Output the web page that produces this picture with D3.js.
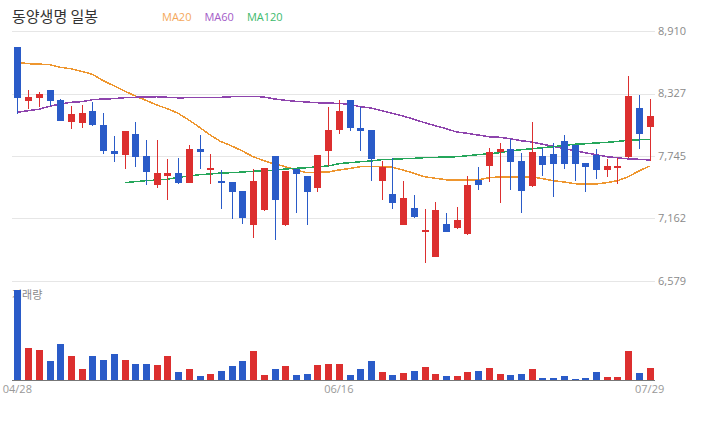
<!DOCTYPE html>
<html>
<head>
<meta charset="utf-8">
<script src="https://cdn.jsdelivr.net/npm/d3@7"></script>
<style>
	html, body { margin: 0; padding: 0; background: #fff; }
	svg { display: block; }
</style>
</head>
<body>
<div id="chart"></div>
<script>
(function () {
	'use strict';

	var title = "동양생명 일봉";

	// daily prices, 60 sessions
	var opens  = [8760, 8250, 8280, 8360, 8270, 8070, 8060, 8160, 8030, 7790, 7760, 7950, 7740, 7480, 7560, 7590, 7490, 7810, 7610, 7510,
		7500, 7420, 7100, 7240, 7740, 7100, 7620, 7560, 7440, 7790, 7980, 8270, 8010, 7990, 7510, 7390, 7100, 7260, 7040, 6800,
		7110, 7080, 7010, 7520, 7650, 7780, 7810, 7700, 7460, 7740, 7760, 7880, 7850, 7680, 7750, 7610, 7640, 7730, 8190, 8020];
	var highs  = [8760, 8360, 8340, 8360, 8280, 8210, 8220, 8250, 8150, 7930, 7980, 8060, 7890, 7890, 7720, 7730, 7850, 7940, 7760, 7610,
		7500, 7420, 7620, 7630, 7740, 7600, 7620, 7560, 7750, 8200, 8270, 8270, 8200, 7990, 7700, 7730, 7510, 7380, 7250, 7320,
		7210, 7270, 7560, 7640, 7820, 7870, 7900, 7770, 8060, 7820, 7870, 7940, 7850, 7680, 7810, 7720, 7730, 8490, 8310, 8280];
	var lows   = [8140, 8180, 8200, 8210, 8070, 8000, 8010, 8020, 7760, 7690, 7620, 7640, 7470, 7450, 7330, 7480, 7490, 7620, 7480, 7250,
		7160, 7110, 6980, 7230, 6960, 7090, 7210, 7100, 7410, 7650, 7950, 7980, 7790, 7510, 7330, 7250, 7100, 7170, 6750, 6800,
		7040, 7060, 7010, 7430, 7500, 7310, 7430, 7210, 7460, 7560, 7360, 7620, 7510, 7410, 7530, 7550, 7480, 7730, 7810, 7700];
	var closes = [8280, 8290, 8320, 8260, 8070, 8140, 8150, 8030, 7790, 7760, 7980, 7740, 7590, 7590, 7590, 7500, 7810, 7780, 7630, 7500,
		7410, 7170, 7510, 7630, 7330, 7600, 7570, 7410, 7750, 7990, 8160, 8010, 7980, 7720, 7640, 7310, 7350, 7180, 7050, 7240,
		7040, 7150, 7470, 7470, 7780, 7810, 7690, 7420, 7780, 7660, 7670, 7670, 7670, 7640, 7610, 7650, 7650, 8300, 7950, 8120];

	// volume, thousand shares
	var volumes = [450, 160, 150, 95, 180, 120, 55, 120, 100, 130, 100, 80, 80, 75, 120, 40, 55, 20, 30, 45,
		70, 95, 145, 25, 55, 70, 25, 30, 75, 80, 80, 25, 55, 95, 40, 25, 35, 45, 65, 30,
		20, 20, 40, 45, 60, 30, 25, 30, 55, 10, 10, 20, 5, 10, 40, 15, 15, 145, 35, 60];

	// moving averages
	var ma20 = [8618, 8605, 8602, 8596, 8572, 8558, 8534, 8506, 8447, 8400, 8351, 8304, 8264, 8220, 8186, 8143, 8080, 8012, 7940, 7878,
		7838, 7791, 7738, 7701, 7670, 7645, 7614, 7589, 7592, 7595, 7614, 7628, 7645, 7645, 7645, 7639, 7614, 7583, 7551, 7537,
		7523, 7521, 7521, 7523, 7542, 7549, 7549, 7549, 7549, 7533, 7514, 7502, 7486, 7483, 7483, 7496, 7514, 7551, 7605, 7651];
	var ma60 = [8152, 8167, 8180, 8208, 8229, 8245, 8251, 8269, 8276, 8279, 8288, 8292, 8295, 8297, 8292, 8287, 8288, 8288, 8288, 8292,
		8297, 8297, 8301, 8295, 8276, 8264, 8254, 8248, 8241, 8238, 8235, 8227, 8204, 8192, 8167, 8143, 8117, 8087, 8055, 8027,
		7999, 7968, 7956, 7940, 7924, 7919, 7906, 7887, 7875, 7854, 7835, 7813, 7794, 7775, 7757, 7738, 7729, 7717, 7714, 7707];
	var ma120 = [null, null, null, null, null, null, null, null, null, null,
		7496, 7505, 7514, 7521, 7527, 7546, 7558, 7570, 7577, 7586, 7589, 7595, 7602, 7605, 7611, 7623, 7630, 7635, 7645, 7651,
		7673, 7682, 7691, 7698, 7710, 7714, 7719, 7723, 7729, 7732, 7735, 7738, 7747, 7757, 7766, 7775, 7793, 7803, 7812, 7822,
		7831, 7844, 7854, 7859, 7866, 7871, 7881, 7890, 7896, 7900];

	var priceTicks = [8910, 8327, 7745, 7162, 6579];
	var dateTicks = [0, 30, 59];
	var dateLabels = ["04/28", "06/16", "07/29"];

	var maNames = ["MA20", "MA60", "MA120"];
	var maSeries = [ma20, ma60, ma120];
	var maColors = ["#ee962f", "#8e44ad", "#24a65a"];
	var maTextColors = ["#f4a85a", "#a35bc7", "#3dba6c"];

	var UP = "#dc2f2f", DOWN = "#2a5bc8";

	var width = 720, height = 440;
	var left = 12, right = 655;

	var svg = d3.select("#chart")
		.append("svg")
		.attr("width", width)
		.attr("height", height)
		.style("font-family", "'Open Sans', 'Noto Sans CJK KR', sans-serif");

	var x = d3.scalePoint()
		.domain(d3.range(closes.length))
		.range([left, right])
		.padding(0.5);

	var y = d3.scaleLinear()
		.domain([d3.min(priceTicks), d3.max(priceTicks)])
		.range([281, 31]);

	var yVol = d3.scaleLinear()
		.domain([0, d3.max(volumes)])
		.range([380, 290]);

	var bodyW = 7;
	function cx(i) { return Math.round(x(i)); }
	function color(i) { return closes[i] >= opens[i] ? UP : DOWN; }

	// grid lines + price labels
	svg.selectAll("line.grid")
		.data(priceTicks)
		.enter()
			.append("line")
			.attr("class", "grid")
			.attr("x1", left)
			.attr("x2", right)
			.attr("y1", function(d){ return Math.round(y(d)) + 0.5; })
			.attr("y2", function(d){ return Math.round(y(d)) + 0.5; })
			.attr("stroke", "#e6e6e6")
			.attr("stroke-width", 1);

	svg.selectAll("text.ptick")
		.data(priceTicks)
		.enter()
			.append("text")
			.attr("class", "ptick")
			.attr("x", 658)
			.attr("y", function(d){ return y(d); })
			.attr("dy", "0.35em")
			.attr("fill", "#8a8a8a")
			.style("font-size", "11px")
			.text(d3.format(","));

	// moving average lines
	maSeries.forEach(function(series, k) {
		var line = d3.line()
			.defined(function(d){ return d != null; })
			.x(function(d, i){ return x(i); })
			.y(function(d){ return y(d); });
		svg.append("path")
			.datum(series)
			.attr("fill", "none")
			.attr("stroke", maColors[k])
			.attr("stroke-width", 1.5)
			.attr("shape-rendering", "crispEdges")
			.attr("d", line);
	});

	// candles
	var idx = d3.range(closes.length);

	svg.selectAll("line.wick")
		.data(idx)
		.enter()
			.append("line")
			.attr("class", "wick")
			.attr("x1", function(i){ return cx(i) + 0.5; })
			.attr("x2", function(i){ return cx(i) + 0.5; })
			.attr("y1", function(i){ return Math.round(y(highs[i])); })
			.attr("y2", function(i){ return Math.round(y(lows[i])); })
			.attr("stroke", color)
			.attr("stroke-width", 1);

	svg.selectAll("rect.body")
		.data(idx)
		.enter()
			.append("rect")
			.attr("class", "body")
			.attr("x", function(i){ return cx(i) - 3; })
			.attr("width", bodyW)
			.attr("y", function(i){ return Math.round(y(Math.max(opens[i], closes[i]))); })
			.attr("height", function(i){
				return Math.max(2, Math.round(Math.abs(y(opens[i]) - y(closes[i]))));
			})
			.attr("fill", color);

	// volume panel
	svg.append("text")
		.attr("x", 12)
		.attr("y", 299)
		.attr("fill", "#8a8a8a")
		.style("font-family", "'Noto Sans CJK KR', sans-serif")
		.style("font-size", "11px")
		.text("거래량");

	svg.selectAll("rect.vol")
		.data(idx)
		.enter()
			.append("rect")
			.attr("class", "vol")
			.attr("x", function(i){ return cx(i) - 3; })
			.attr("width", bodyW)
			.attr("y", function(i){ return Math.round(yVol(volumes[i])); })
			.attr("height", function(i){ return 380 - Math.round(yVol(volumes[i])); })
			.attr("fill", color);

	svg.append("line")
		.attr("x1", left)
		.attr("x2", right)
		.attr("y1", 380.5)
		.attr("y2", 380.5)
		.attr("stroke", "#777")
		.attr("stroke-width", 1);

	svg.selectAll("text.dtick")
		.data(dateTicks)
		.enter()
			.append("text")
			.attr("class", "dtick")
			.attr("x", function(i){ return x(i); })
			.attr("y", 393)
			.attr("text-anchor", "middle")
			.attr("fill", "#999")
			.style("font-size", "11px")
			.text(function(d, k){ return dateLabels[k]; });

	// title and legend
	svg.append("text")
		.attr("x", 12)
		.attr("y", 22)
		.attr("fill", "#333")
		.style("font-family", "'Noto Sans CJK KR', sans-serif")
		.style("font-size", "15px")
		.text(title);

	var lx = 162;
	maNames.forEach(function(name, k) {
		var t = svg.append("text")
			.attr("x", lx)
			.attr("y", 21)
			.attr("fill", maTextColors[k])
			.style("font-size", "11px")
			.text(name);
		lx += t.node().getComputedTextLength() + 13;
	});

}());
</script>
</body>
</html>
